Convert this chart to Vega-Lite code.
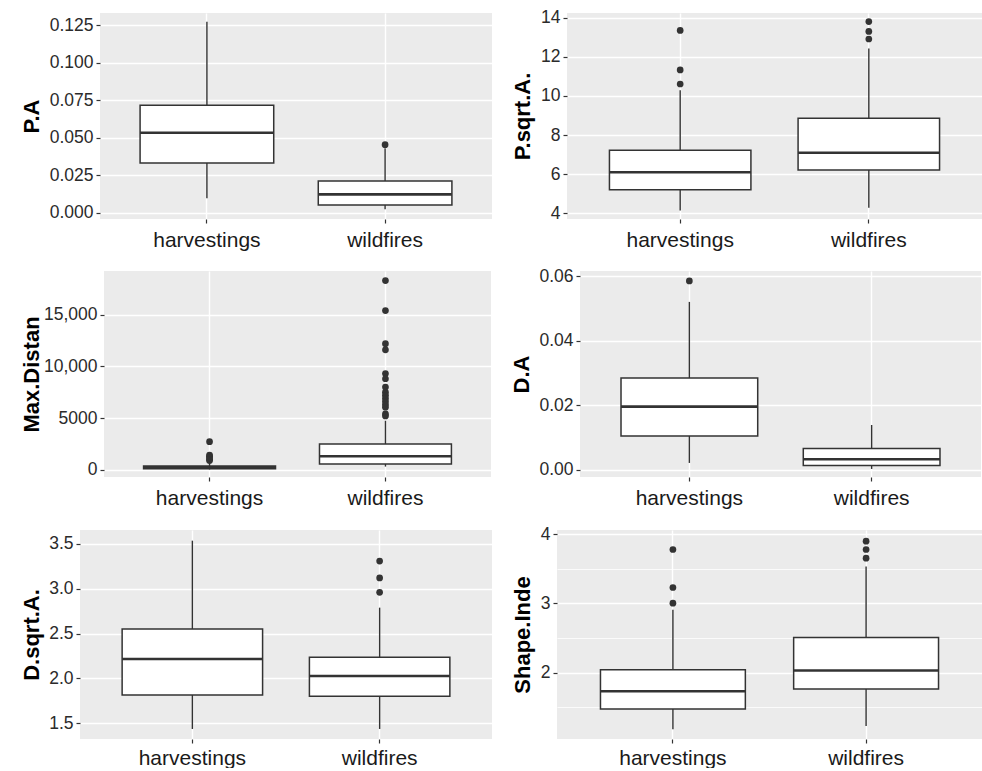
{
  "$schema": "https://vega.github.io/schema/vega-lite/v6.json",
  "background": "white",
  "padding": {"left": 0, "top": 8, "right": 0, "bottom": 0},
  "datasets": {
    "boxes": [
      {"v": "P.A", "g": "harvestings", "lo": 0.0098, "q1": 0.0332, "med": 0.0534, "q3": 0.0716, "hi": 0.1272},
      {"v": "P.A", "g": "wildfires", "lo": 0.0025, "q1": 0.0053, "med": 0.0124, "q3": 0.0213, "hi": 0.043},
      {"v": "P.sqrt.A.", "g": "harvestings", "lo": 4.15, "q1": 5.21, "med": 6.10, "q3": 7.22, "hi": 10.29},
      {"v": "P.sqrt.A.", "g": "wildfires", "lo": 4.29, "q1": 6.21, "med": 7.10, "q3": 8.86, "hi": 12.42},
      {"v": "Max.Distan", "g": "harvestings", "lo": 20, "q1": 100, "med": 230, "q3": 360, "hi": 700},
      {"v": "Max.Distan", "g": "wildfires", "lo": 300, "q1": 550, "med": 1300, "q3": 2490, "hi": 4740},
      {"v": "D.A", "g": "harvestings", "lo": 0.00207, "q1": 0.01045, "med": 0.01955, "q3": 0.02845, "hi": 0.0521},
      {"v": "D.A", "g": "wildfires", "lo": 0.0002, "q1": 0.00124, "med": 0.00321, "q3": 0.00652, "hi": 0.01386},
      {"v": "D.sqrt.A.", "g": "harvestings", "lo": 1.437, "q1": 1.816, "med": 2.217, "q3": 2.552, "hi": 3.537},
      {"v": "D.sqrt.A.", "g": "wildfires", "lo": 1.437, "q1": 1.801, "med": 2.028, "q3": 2.236, "hi": 2.79},
      {"v": "Shape.Inde", "g": "harvestings", "lo": 1.181, "q1": 1.475, "med": 1.73, "q3": 2.039, "hi": 2.906},
      {"v": "Shape.Inde", "g": "wildfires", "lo": 1.229, "q1": 1.764, "med": 2.029, "q3": 2.506, "hi": 3.533}
    ],
    "outliers": [
      {"v": "P.A", "g": "wildfires", "y": 0.0454},
      {"v": "P.sqrt.A.", "g": "harvestings", "y": 13.35},
      {"v": "P.sqrt.A.", "g": "harvestings", "y": 11.33},
      {"v": "P.sqrt.A.", "g": "harvestings", "y": 10.61},
      {"v": "P.sqrt.A.", "g": "wildfires", "y": 13.80},
      {"v": "P.sqrt.A.", "g": "wildfires", "y": 13.30},
      {"v": "P.sqrt.A.", "g": "wildfires", "y": 12.91},
      {"v": "Max.Distan", "g": "harvestings", "y": 2710},
      {"v": "Max.Distan", "g": "harvestings", "y": 1420},
      {"v": "Max.Distan", "g": "harvestings", "y": 1300},
      {"v": "Max.Distan", "g": "harvestings", "y": 1150},
      {"v": "Max.Distan", "g": "harvestings", "y": 1000},
      {"v": "Max.Distan", "g": "harvestings", "y": 880},
      {"v": "Max.Distan", "g": "wildfires", "y": 18300},
      {"v": "Max.Distan", "g": "wildfires", "y": 15400},
      {"v": "Max.Distan", "g": "wildfires", "y": 12200},
      {"v": "Max.Distan", "g": "wildfires", "y": 11600},
      {"v": "Max.Distan", "g": "wildfires", "y": 9300},
      {"v": "Max.Distan", "g": "wildfires", "y": 8800},
      {"v": "Max.Distan", "g": "wildfires", "y": 8000},
      {"v": "Max.Distan", "g": "wildfires", "y": 7500},
      {"v": "Max.Distan", "g": "wildfires", "y": 7200},
      {"v": "Max.Distan", "g": "wildfires", "y": 6900},
      {"v": "Max.Distan", "g": "wildfires", "y": 6600},
      {"v": "Max.Distan", "g": "wildfires", "y": 6300},
      {"v": "Max.Distan", "g": "wildfires", "y": 6050},
      {"v": "Max.Distan", "g": "wildfires", "y": 5400},
      {"v": "Max.Distan", "g": "wildfires", "y": 5200},
      {"v": "D.A", "g": "harvestings", "y": 0.0586},
      {"v": "D.sqrt.A.", "g": "wildfires", "y": 3.310},
      {"v": "D.sqrt.A.", "g": "wildfires", "y": 3.121},
      {"v": "D.sqrt.A.", "g": "wildfires", "y": 2.961},
      {"v": "Shape.Inde", "g": "harvestings", "y": 3.778},
      {"v": "Shape.Inde", "g": "harvestings", "y": 3.229},
      {"v": "Shape.Inde", "g": "harvestings", "y": 3.002},
      {"v": "Shape.Inde", "g": "wildfires", "y": 3.899},
      {"v": "Shape.Inde", "g": "wildfires", "y": 3.778},
      {"v": "Shape.Inde", "g": "wildfires", "y": 3.653}
    ]
  },
  "spacing": 17,
  "vconcat": [
    {
      "spacing": 0,
      "hconcat": [
        {"width": 0, "height": 1, "view": {"fill": null, "stroke": null}, "data": {"values": [{}]}, "mark": {"type": "point", "size": 0, "opacity": 0}},
        {
          "spacing": 19,
          "hconcat": [
            {
              "width": 392, "height": 206,
              "layer": [
                {"data": {"name": "boxes"}, "transform": [{"filter": "datum.v === 'P.A'"}],
                 "mark": {"type": "rule", "color": "#333333", "strokeWidth": 1.4},
                 "encoding": {
                   "x": {"field": "g", "type": "nominal", "bandPosition": 0.5, "scale": {"type": "band", "paddingInner": 0.25, "paddingOuter": 0.225}},
                   "y": {"field": "lo", "type": "quantitative", "title": "P.A",
                         "scale": {"domain": [-0.004, 0.133], "nice": false, "zero": false},
                         "axis": {"values": [0, 0.0125, 0.025, 0.0375, 0.05, 0.0625, 0.075, 0.0875, 0.1, 0.1125, 0.125],
                                  "labelExpr": "indexof([0, 0.025, 0.05, 0.075, 0.1, 0.125], datum.value) >= 0 ? format(datum.value, '.3f') : ''",
                                  "gridWidth": {"condition": {"test": "indexof([0, 0.025, 0.05, 0.075, 0.1, 0.125], datum.value) >= 0", "value": 1.4}, "value": 0.8},
                                  "tickOpacity": {"condition": {"test": "indexof([0, 0.025, 0.05, 0.075, 0.1, 0.125], datum.value) >= 0", "value": 1}, "value": 0},
                                  "minExtent": 53, "maxExtent": 53, "titlePadding": 4}},
                   "y2": {"field": "hi"}}},
                {"data": {"name": "boxes"}, "transform": [{"filter": "datum.v === 'P.A'"}],
                 "mark": {"type": "bar", "fill": "white", "stroke": "#333333", "strokeWidth": 1.5},
                 "encoding": {"x": {"field": "g", "type": "nominal"}, "y": {"field": "q1", "type": "quantitative"}, "y2": {"field": "q3"}}},
                {"data": {"name": "boxes"}, "transform": [{"filter": "datum.v === 'P.A'"}],
                 "mark": {"type": "rule", "color": "#333333", "strokeWidth": 2.6},
                 "encoding": {"x": {"field": "g", "type": "nominal", "bandPosition": 0}, "x2": {"field": "g", "bandPosition": 1}, "y": {"field": "med", "type": "quantitative"}}},
                {"data": {"name": "outliers"}, "transform": [{"filter": "datum.v === 'P.A'"}],
                 "mark": {"type": "point", "filled": true, "color": "#333333", "opacity": 1, "size": 45},
                 "encoding": {"x": {"field": "g", "type": "nominal", "bandPosition": 0.5}, "y": {"field": "y", "type": "quantitative"}}}
              ]
            },
            {
              "width": 415, "height": 206,
              "layer": [
                {"data": {"name": "boxes"}, "transform": [{"filter": "datum.v === 'P.sqrt.A.'"}],
                 "mark": {"type": "rule", "color": "#333333", "strokeWidth": 1.4},
                 "encoding": {
                   "x": {"field": "g", "type": "nominal", "bandPosition": 0.5, "scale": {"type": "band", "paddingInner": 0.25, "paddingOuter": 0.225}},
                   "y": {"field": "lo", "type": "quantitative", "title": "P.sqrt.A.",
                         "scale": {"domain": [3.71, 14.24], "nice": false, "zero": false},
                         "axis": {"values": [4, 5, 6, 7, 8, 9, 10, 11, 12, 13, 14],
                                  "labelExpr": "datum.value % 2 === 0 ? format(datum.value, 'd') : ''",
                                  "gridWidth": {"condition": {"test": "datum.value % 2 === 0", "value": 1.4}, "value": 0.8},
                                  "tickOpacity": {"condition": {"test": "datum.value % 2 === 0", "value": 1}, "value": 0},
                                  "minExtent": 29, "maxExtent": 29, "titlePadding": 4}},
                   "y2": {"field": "hi"}}},
                {"data": {"name": "boxes"}, "transform": [{"filter": "datum.v === 'P.sqrt.A.'"}],
                 "mark": {"type": "bar", "fill": "white", "stroke": "#333333", "strokeWidth": 1.5},
                 "encoding": {"x": {"field": "g", "type": "nominal"}, "y": {"field": "q1", "type": "quantitative"}, "y2": {"field": "q3"}}},
                {"data": {"name": "boxes"}, "transform": [{"filter": "datum.v === 'P.sqrt.A.'"}],
                 "mark": {"type": "rule", "color": "#333333", "strokeWidth": 2.6},
                 "encoding": {"x": {"field": "g", "type": "nominal", "bandPosition": 0}, "x2": {"field": "g", "bandPosition": 1}, "y": {"field": "med", "type": "quantitative"}}},
                {"data": {"name": "outliers"}, "transform": [{"filter": "datum.v === 'P.sqrt.A.'"}],
                 "mark": {"type": "point", "filled": true, "color": "#333333", "opacity": 1, "size": 45},
                 "encoding": {"x": {"field": "g", "type": "nominal", "bandPosition": 0.5}, "y": {"field": "y", "type": "quantitative"}}}
              ]
            }
          ]
        }
      ]
    },
    {
      "spacing": 0,
      "hconcat": [
        {"width": 0, "height": 1, "view": {"fill": null, "stroke": null}, "data": {"values": [{}]}, "mark": {"type": "point", "size": 0, "opacity": 0}},
        {
          "spacing": 19,
          "hconcat": [
            {
              "width": 387, "height": 206,
              "layer": [
                {"data": {"name": "boxes"}, "transform": [{"filter": "datum.v === 'Max.Distan'"}],
                 "mark": {"type": "rule", "color": "#333333", "strokeWidth": 1.4},
                 "encoding": {
                   "x": {"field": "g", "type": "nominal", "bandPosition": 0.5, "scale": {"type": "band", "paddingInner": 0.25, "paddingOuter": 0.225}},
                   "y": {"field": "lo", "type": "quantitative", "title": "Max.Distan",
                         "scale": {"domain": [-707, 19230], "nice": false, "zero": false},
                         "axis": {"values": [0, 2500, 5000, 7500, 10000, 12500, 15000, 17500],
                                  "labelExpr": "datum.value % 5000 === 0 ? (datum.value >= 10000 ? format(datum.value, ',') : format(datum.value, 'd')) : ''",
                                  "gridWidth": {"condition": {"test": "datum.value % 5000 === 0", "value": 1.4}, "value": 0.8},
                                  "tickOpacity": {"condition": {"test": "datum.value % 5000 === 0", "value": 1}, "value": 0},
                                  "minExtent": 61, "maxExtent": 61, "titlePadding": 0}},
                   "y2": {"field": "hi"}}},
                {"data": {"name": "boxes"}, "transform": [{"filter": "datum.v === 'Max.Distan'"}],
                 "mark": {"type": "bar", "fill": "white", "stroke": "#333333", "strokeWidth": 1.5},
                 "encoding": {"x": {"field": "g", "type": "nominal"}, "y": {"field": "q1", "type": "quantitative"}, "y2": {"field": "q3"}}},
                {"data": {"name": "boxes"}, "transform": [{"filter": "datum.v === 'Max.Distan'"}],
                 "mark": {"type": "rule", "color": "#333333", "strokeWidth": 2.6},
                 "encoding": {"x": {"field": "g", "type": "nominal", "bandPosition": 0}, "x2": {"field": "g", "bandPosition": 1}, "y": {"field": "med", "type": "quantitative"}}},
                {"data": {"name": "outliers"}, "transform": [{"filter": "datum.v === 'Max.Distan'"}],
                 "mark": {"type": "point", "filled": true, "color": "#333333", "opacity": 1, "size": 45},
                 "encoding": {"x": {"field": "g", "type": "nominal", "bandPosition": 0.5}, "y": {"field": "y", "type": "quantitative"}}}
              ]
            },
            {
              "width": 401, "height": 206,
              "layer": [
                {"data": {"name": "boxes"}, "transform": [{"filter": "datum.v === 'D.A'"}],
                 "mark": {"type": "rule", "color": "#333333", "strokeWidth": 1.4},
                 "encoding": {
                   "x": {"field": "g", "type": "nominal", "bandPosition": 0.5, "scale": {"type": "band", "paddingInner": 0.25, "paddingOuter": 0.225}},
                   "y": {"field": "lo", "type": "quantitative", "title": "D.A",
                         "scale": {"domain": [-0.0023, 0.0617], "nice": false, "zero": false},
                         "axis": {"values": [0, 0.01, 0.02, 0.03, 0.04, 0.05, 0.06],
                                  "labelExpr": "indexof([0, 0.02, 0.04, 0.06], datum.value) >= 0 ? format(datum.value, '.2f') : ''",
                                  "gridWidth": {"condition": {"test": "indexof([0, 0.02, 0.04, 0.06], datum.value) >= 0", "value": 1.4}, "value": 0.8},
                                  "tickOpacity": {"condition": {"test": "indexof([0, 0.02, 0.04, 0.06], datum.value) >= 0", "value": 1}, "value": 0},
                                  "minExtent": 43, "maxExtent": 43, "titlePadding": 4}},
                   "y2": {"field": "hi"}}},
                {"data": {"name": "boxes"}, "transform": [{"filter": "datum.v === 'D.A'"}],
                 "mark": {"type": "bar", "fill": "white", "stroke": "#333333", "strokeWidth": 1.5},
                 "encoding": {"x": {"field": "g", "type": "nominal"}, "y": {"field": "q1", "type": "quantitative"}, "y2": {"field": "q3"}}},
                {"data": {"name": "boxes"}, "transform": [{"filter": "datum.v === 'D.A'"}],
                 "mark": {"type": "rule", "color": "#333333", "strokeWidth": 2.6},
                 "encoding": {"x": {"field": "g", "type": "nominal", "bandPosition": 0}, "x2": {"field": "g", "bandPosition": 1}, "y": {"field": "med", "type": "quantitative"}}},
                {"data": {"name": "outliers"}, "transform": [{"filter": "datum.v === 'D.A'"}],
                 "mark": {"type": "point", "filled": true, "color": "#333333", "opacity": 1, "size": 45},
                 "encoding": {"x": {"field": "g", "type": "nominal", "bandPosition": 0.5}, "y": {"field": "y", "type": "quantitative"}}}
              ]
            }
          ]
        }
      ]
    },
    {
      "spacing": 0,
      "hconcat": [
        {"width": 0, "height": 1, "view": {"fill": null, "stroke": null}, "data": {"values": [{}]}, "mark": {"type": "point", "size": 0, "opacity": 0}},
        {
          "spacing": 19,
          "hconcat": [
            {
              "width": 412, "height": 209,
              "layer": [
                {"data": {"name": "boxes"}, "transform": [{"filter": "datum.v === 'D.sqrt.A.'"}],
                 "mark": {"type": "rule", "color": "#333333", "strokeWidth": 1.4},
                 "encoding": {
                   "x": {"field": "g", "type": "nominal", "bandPosition": 0.5, "scale": {"type": "band", "paddingInner": 0.25, "paddingOuter": 0.225}, "axis": {"labelPadding": 4}},
                   "y": {"field": "lo", "type": "quantitative", "title": "D.sqrt.A.",
                         "scale": {"domain": [1.325, 3.656], "nice": false, "zero": false},
                         "axis": {"values": [1.5, 1.75, 2, 2.25, 2.5, 2.75, 3, 3.25, 3.5],
                                  "labelExpr": "(datum.value * 2) % 1 === 0 ? format(datum.value, '.1f') : ''",
                                  "gridWidth": {"condition": {"test": "(datum.value * 2) % 1 === 0", "value": 1.4}, "value": 0.8},
                                  "tickOpacity": {"condition": {"test": "(datum.value * 2) % 1 === 0", "value": 1}, "value": 0},
                                  "minExtent": 33, "maxExtent": 33, "titlePadding": 4}},
                   "y2": {"field": "hi"}}},
                {"data": {"name": "boxes"}, "transform": [{"filter": "datum.v === 'D.sqrt.A.'"}],
                 "mark": {"type": "bar", "fill": "white", "stroke": "#333333", "strokeWidth": 1.5},
                 "encoding": {"x": {"field": "g", "type": "nominal"}, "y": {"field": "q1", "type": "quantitative"}, "y2": {"field": "q3"}}},
                {"data": {"name": "boxes"}, "transform": [{"filter": "datum.v === 'D.sqrt.A.'"}],
                 "mark": {"type": "rule", "color": "#333333", "strokeWidth": 2.6},
                 "encoding": {"x": {"field": "g", "type": "nominal", "bandPosition": 0}, "x2": {"field": "g", "bandPosition": 1}, "y": {"field": "med", "type": "quantitative"}}},
                {"data": {"name": "outliers"}, "transform": [{"filter": "datum.v === 'D.sqrt.A.'"}],
                 "mark": {"type": "point", "filled": true, "color": "#333333", "opacity": 1, "size": 45},
                 "encoding": {"x": {"field": "g", "type": "nominal", "bandPosition": 0.5}, "y": {"field": "y", "type": "quantitative"}}}
              ]
            },
            {
              "width": 425, "height": 209,
              "layer": [
                {"data": {"name": "boxes"}, "transform": [{"filter": "datum.v === 'Shape.Inde'"}],
                 "mark": {"type": "rule", "color": "#333333", "strokeWidth": 1.4},
                 "encoding": {
                   "x": {"field": "g", "type": "nominal", "bandPosition": 0.5, "scale": {"type": "band", "paddingInner": 0.25, "paddingOuter": 0.225}, "axis": {"labelPadding": 4}},
                   "y": {"field": "lo", "type": "quantitative", "title": "Shape.Inde",
                         "scale": {"domain": [1.04, 4.06], "nice": false, "zero": false},
                         "axis": {"values": [1.5, 2, 2.5, 3, 3.5, 4],
                                  "labelExpr": "datum.value % 1 === 0 ? format(datum.value, 'd') : ''",
                                  "gridWidth": {"condition": {"test": "datum.value % 1 === 0", "value": 1.4}, "value": 0.8},
                                  "tickOpacity": {"condition": {"test": "datum.value % 1 === 0", "value": 1}, "value": 0},
                                  "minExtent": 20, "maxExtent": 20, "titlePadding": 3}},
                   "y2": {"field": "hi"}}},
                {"data": {"name": "boxes"}, "transform": [{"filter": "datum.v === 'Shape.Inde'"}],
                 "mark": {"type": "bar", "fill": "white", "stroke": "#333333", "strokeWidth": 1.5},
                 "encoding": {"x": {"field": "g", "type": "nominal"}, "y": {"field": "q1", "type": "quantitative"}, "y2": {"field": "q3"}}},
                {"data": {"name": "boxes"}, "transform": [{"filter": "datum.v === 'Shape.Inde'"}],
                 "mark": {"type": "rule", "color": "#333333", "strokeWidth": 2.6},
                 "encoding": {"x": {"field": "g", "type": "nominal", "bandPosition": 0}, "x2": {"field": "g", "bandPosition": 1}, "y": {"field": "med", "type": "quantitative"}}},
                {"data": {"name": "outliers"}, "transform": [{"filter": "datum.v === 'Shape.Inde'"}],
                 "mark": {"type": "point", "filled": true, "color": "#333333", "opacity": 1, "size": 45},
                 "encoding": {"x": {"field": "g", "type": "nominal", "bandPosition": 0.5}, "y": {"field": "y", "type": "quantitative"}}}
              ]
            }
          ]
        }
      ]
    }
  ],
  "config": {
    "font": "Liberation Sans",
    "view": {"fill": "#EBEBEB", "stroke": null},
    "axis": {"domain": false, "grid": true, "gridColor": "white", "tickColor": "#333333", "tickSize": 4, "tickWidth": 1.2, "labelOverlap": false, "labelFont": "Liberation Sans"},
    "axisX": {"title": null, "labelFontSize": 21, "labelColor": "#1a1a1a", "labelPadding": 6, "labelAngle": 0, "gridWidth": 1.4},
    "axisY": {"labelFontSize": 17.5, "labelColor": "#2b2b2b", "labelPadding": 3, "titleFontSize": 22, "titleFontWeight": "bold", "titleColor": "#000000", "titleFont": "Liberation Sans"}
  }
}
